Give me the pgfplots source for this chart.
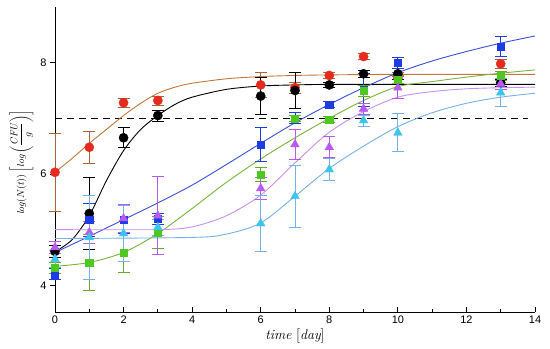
\documentclass[border=0pt]{standalone}
\usepackage{pgfplots}
\pgfplotsset{compat=1.18}
\usepackage{pgfplotstable}
\usepackage{fontspec}
\setsansfont{Liberation Sans}
\definecolor{cred}{HTML}{E62A1E}
\definecolor{corange}{HTML}{C0783C}
\definecolor{cbrown}{HTML}{A8643A}
\definecolor{cblue}{HTML}{1E3CE6}
\definecolor{cblueline}{HTML}{3A50D8}
\definecolor{cgreen}{HTML}{4CC81E}
\definecolor{cgreenline}{HTML}{78B43C}
\definecolor{cgreenerr}{HTML}{6AA828}
\definecolor{cviolet}{HTML}{B85AF0}
\definecolor{cvioletline}{HTML}{C890F0}
\definecolor{ccyan}{HTML}{3CC4F0}
\definecolor{ccyanline}{HTML}{78B0E8}

\pgfplotstableread{
t y e
0 6.03 0.70
1 6.48 0.29
2 7.28 0.08
3 7.32 0.08
6 7.60 0.22
7 7.55 0.10
8 7.77 0.05
9 8.11 0.06
10 7.72 0.10
13 7.98 0.08
}\redtab
\pgfplotstableread{
t y e
0 4.61 0.10
1 5.29 0.64
2 6.65 0.18
3 7.05 0.10
6 7.40 0.33
7 7.50 0.32
8 7.60 0.05
9 7.80 0.06
10 7.80 0.10
13 7.64 0.06
}\blacktab
\pgfplotstableread{
t y e
0 4.20 0.10
1 5.18 0.30
2 5.18 0.25
3 5.20 0.10
6 6.53 0.30
7 7.00 0.10
8 7.25 0.05
9 7.51 0.30
10 8.00 0.10
13 8.29 0.18
}\bluetab
\pgfplotstableread{
t y e
0 4.32 0.10
1 4.41 0.50
2 4.59 0.36
3 4.95 0.28
6 5.99 0.12
7 7.00 0.05
8 6.98 0.05
9 7.50 0.10
10 7.70 0.08
13 7.77 0.08
}\greentab
\pgfplotstableread{
t y e
0 4.68 0.10
1 4.95 0.20
2 5.20 0.25
3 5.25 0.70
6 5.74 0.20
7 6.53 0.27
8 6.48 0.19
9 7.17 0.10
10 7.55 0.20
13 7.62 0.10
}\violettab
\pgfplotstableread{
t y e
0 4.47 0.15
1 4.86 0.75
2 4.93 0.50
3 5.04 0.15
6 5.11 0.50
7 5.60 0.56
8 6.08 0.20
9 6.96 0.10
10 6.74 0.34
13 7.46 0.25
}\cyantab

\begin{document}
\begin{tikzpicture}
\begin{axis}[
  scale only axis, width=480bp, height=305bp,
  xmin=0, xmax=14, ymin=3.52, ymax=9.0,
  axis x line=bottom, axis y line=left,
  axis line style={-, line width=0.8pt},
  xtick={0,2,...,14}, minor xtick={1,3,...,13}, ytick={4,6,8},
  xtick align=inside, ytick align=outside,
  tick style={black, line width=0.8pt},
  major tick length=5bp, minor tick length=3bp,
  ticklabel style={font=\sffamily\fontsize{11}{13}\selectfont},
  /pgf/number format/assume math mode=true,
  xlabel={$\mathit{time}\ [\mathit{day}]$},
  ylabel={$\mathit{log}(N(t))\left[\mathit{log}\left(\displaystyle\frac{\mathit{CFU}}{g}\right)\right]$},
  xlabel style={font=\fontsize{14}{16}\selectfont, at={(axis description cs:0.5,0)}, anchor=north, yshift=-13bp},
  ylabel style={font=\fontsize{10}{12}\selectfont, at={(axis description cs:0,0.49)}, anchor=south, yshift=18bp},
  clip=false,
]
\coordinate (SW) at (rel axis cs:0,0);
\coordinate (NE) at (rel axis cs:1,1);
% dashed threshold
\addplot[black, dashed, line width=0.9pt, dash pattern=on 7bp off 5bp] coordinates {(0,7.0) (13.8,7.0)};
% fitted curves
\addplot[corange, line width=0.9pt, smooth] coordinates {(0,6.03) (0.5,6.28) (1,6.55) (1.5,6.8) (2,7.05) (2.5,7.27) (3,7.45) (3.5,7.56) (4,7.63) (5,7.71) (6,7.75) (7,7.77) (8,7.78) (10,7.79) (14,7.79)};
\addplot[black, line width=0.9pt, smooth] coordinates {(0,4.6) (0.5,4.82) (1,5.25) (1.5,5.88) (2,6.42) (2.5,6.8) (3,7.05) (3.5,7.25) (4,7.38) (5,7.52) (6,7.58) (7,7.6) (8,7.61) (10,7.61) (14,7.61)};
\addplot[cblueline, line width=0.9pt, smooth] coordinates {(0,4.59) (1,4.88) (2,5.18) (3,5.48) (4,5.8) (5,6.17) (6,6.55) (7,6.92) (8,7.25) (9,7.55) (10,7.82) (11,8.03) (12,8.2) (13,8.35) (14,8.48)};
\addplot[cgreenline, line width=0.9pt, smooth] coordinates {(0,4.34) (1,4.41) (2,4.59) (3,4.93) (4,5.38) (5,5.85) (6,6.27) (7,6.65) (8,7.0) (9,7.32) (10,7.57) (11,7.66) (12,7.74) (13,7.81) (14,7.87)};
\addplot[cvioletline, line width=0.9pt, smooth] coordinates {(0,5.0) (3,5.0) (4,5.05) (5,5.25) (6,5.62) (7,6.2) (8,6.75) (9,7.12) (10,7.38) (11,7.48) (12,7.53) (13,7.55) (14,7.56)};
\addplot[ccyanline, line width=0.9pt, smooth] coordinates {(0,4.84) (4,4.86) (5,4.92) (6,5.12) (7,5.6) (8,6.1) (9,6.5) (10,6.85) (11,7.1) (12,7.27) (13,7.38) (14,7.45)};
% data with error bars
\addplot[only marks, mark=*, mark size=4.6bp, mark options={fill=cred, draw=cred}, error bars/.cd, y dir=both, y explicit, error bar style={color=cbrown, line width=0.8pt}, error mark options={rotate=90, mark size=6bp, line width=0.8pt, cbrown}] table[x=t, y=y, y error=e] {\redtab};
\addplot[only marks, mark=*, mark size=4.6bp, mark options={fill=black, draw=black}, error bars/.cd, y dir=both, y explicit, error bar style={color=black, line width=0.8pt}, error mark options={rotate=90, mark size=6bp, line width=0.8pt, black}] table[x=t, y=y, y error=e] {\blacktab};
\addplot[only marks, mark=square*, mark size=3.6bp, mark options={fill=cblue, draw=cblue}, error bars/.cd, y dir=both, y explicit, error bar style={color=cblue, line width=0.8pt}, error mark options={rotate=90, mark size=6bp, line width=0.8pt, cblue}] table[x=t, y=y, y error=e] {\bluetab};
\addplot[only marks, mark=square*, mark size=3.6bp, mark options={fill=cgreen, draw=cgreen}, error bars/.cd, y dir=both, y explicit, error bar style={color=cgreenerr, line width=0.8pt}, error mark options={rotate=90, mark size=6bp, line width=0.8pt, cgreenerr}] table[x=t, y=y, y error=e] {\greentab};
\addplot[only marks, mark=triangle*, mark size=5bp, mark options={fill=cviolet, draw=cviolet}, error bars/.cd, y dir=both, y explicit, error bar style={color=cviolet, line width=0.8pt}, error mark options={rotate=90, mark size=6bp, line width=0.8pt, cviolet}] table[x=t, y=y, y error=e] {\violettab};
\addplot[only marks, mark=triangle*, mark size=5bp, mark options={fill=ccyan, draw=ccyan}, error bars/.cd, y dir=both, y explicit, error bar style={color=ccyanline, line width=0.8pt}, error mark options={rotate=90, mark size=6bp, line width=0.8pt, ccyanline}] table[x=t, y=y, y error=e] {\cyantab};
\end{axis}
\pgfresetboundingbox
\path[use as bounding box] ([xshift=-55bp,yshift=-37bp]SW) rectangle ([xshift=15bp,yshift=7bp]NE);
\end{tikzpicture}
\end{document}
